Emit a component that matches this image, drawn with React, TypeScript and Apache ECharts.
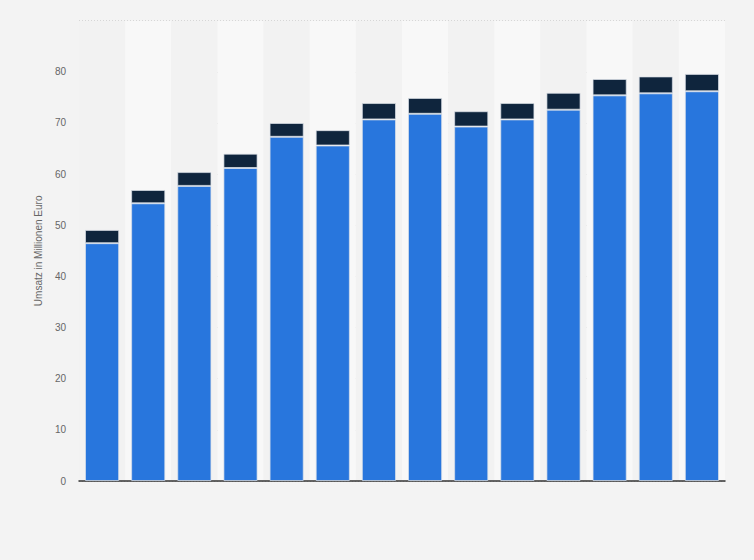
import React, { useEffect, useRef } from "react";
import * as echarts from "echarts";

const categories = [
  "1", "2", "3", "4", "5", "6", "7", "8", "9", "10", "11", "12", "13", "14",
];
const blueValues = [
  46.5, 54.3, 57.7, 61.2, 67.3, 65.6, 70.7, 71.8, 69.3, 70.7, 72.6, 75.4, 75.8, 76.2,
];
const darkValues = [
  2.6, 2.6, 2.7, 2.8, 2.7, 3.0, 3.2, 3.1, 3.0, 3.2, 3.3, 3.2, 3.3, 3.4,
];
const yAxisTitle = "Umsatz in Millionen Euro";

const App: React.FC = () => {
  const chartRef = useRef<HTMLDivElement>(null);

  useEffect(() => {
    if (!chartRef.current) return;
    const chart = echarts.init(chartRef.current, undefined, { renderer: "svg" });

    const barBorder = {
      borderColor: "rgba(220,225,232,0.7)",
      borderWidth: 1,
    };

    chart.setOption({
      animation: false,
      backgroundColor: "#f3f3f3",
      textStyle: { fontFamily: "'Liberation Sans', Arial, sans-serif" },
      grid: { left: 79, right: 29, top: 20.7, bottom: 79, containLabel: false },
      xAxis: {
        type: "category",
        data: categories,
        axisLine: { show: true, lineStyle: { color: "#333333", width: 1.5 } },
        axisTick: { show: false },
        axisLabel: { show: false },
        splitArea: {
          show: true,
          areaStyle: { color: ["#f2f2f2", "#f8f8f8"] },
        },
      },
      yAxis: {
        type: "value",
        min: 0,
        max: 90,
        interval: 10,
        name: yAxisTitle,
        nameLocation: "middle",
        nameGap: 33,
        nameTextStyle: { color: "#666666", fontSize: 10 },
        axisLine: { show: false },
        axisTick: { show: false },
        axisLabel: {
          color: "#666666",
          fontSize: 10,
          margin: 13,
          showMaxLabel: false,
        },
        splitLine: {
          lineStyle: { color: "#cccccc", type: [1, 2], width: 1 },
        },
      },
      series: [
        {
          type: "bar",
          stack: "total",
          data: blueValues,
          barWidth: "74%",
          itemStyle: { color: "#2876dd", ...barBorder },
        },
        {
          type: "bar",
          stack: "total",
          data: darkValues,
          barWidth: "74%",
          itemStyle: { color: "#0f253d", ...barBorder },
        },
      ],
    });

    return () => {
      chart.dispose();
    };
  }, []);

  return (
    <div
      ref={chartRef}
      style={{ position: "fixed", left: 0, top: 0, width: 754, height: 560 }}
    />
  );
};

export default App;
